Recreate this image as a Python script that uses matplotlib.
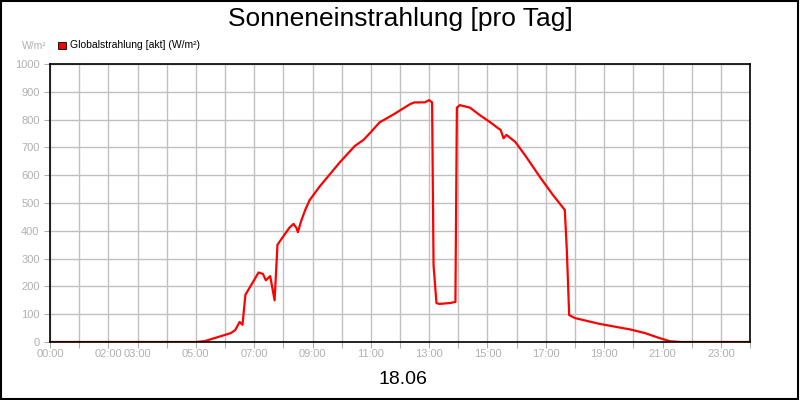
import matplotlib
matplotlib.use("Agg")
import matplotlib.pyplot as plt
from matplotlib.patches import Rectangle

plt.rcParams['font.family'] = ['Liberation Sans', 'DejaVu Sans']

hours = [0, 5.0, 5.3, 6.2, 6.35, 6.5, 6.6, 6.7, 7.0, 7.15, 7.3, 7.4, 7.55, 7.7, 7.8, 8.2, 8.35,
         8.45, 8.5, 8.6, 8.75, 8.9, 9.25, 9.95, 10.45, 10.75, 11.0, 11.3, 11.8, 12.35, 12.5,
         12.85, 13.0, 13.1, 13.15, 13.25, 13.35, 13.7, 13.9, 13.95, 14.05, 14.4, 14.75, 15.1,
         15.35, 15.45, 15.55, 15.65, 15.95, 16.3, 16.8, 17.25, 17.65, 17.72, 17.8, 18.0, 18.85,
         19.9, 20.4, 20.9, 21.25, 21.6, 24.0]
values = [0, 0, 3, 32, 43, 72, 62, 170, 223, 250, 245, 222, 237, 150, 350, 410, 425,
          410, 395, 432, 475, 510, 560, 648, 705, 727, 755, 790, 820, 856, 862,
          862, 870, 862, 277, 140, 137, 140, 144, 843, 852, 843, 815, 790,
          770, 763, 733, 745, 720, 670, 593, 528, 475, 330, 97, 86, 65,
          45, 32, 14, 3, 0, 0]
tick_hours = [0, 2, 3, 5, 7, 9, 11, 13, 15, 17, 19, 21, 23]
tick_labels = ["00:00", "02:00", "03:00", "05:00", "07:00", "09:00", "11:00",
               "13:00", "15:00", "17:00", "19:00", "21:00", "23:00"]

fig = plt.figure(figsize=(8, 4), dpi=100)
fig.patches.append(Rectangle((0.001, 0.002), 0.997, 0.996, transform=fig.transFigure,
                             fill=False, edgecolor="black", linewidth=1.5))
ax = fig.add_axes([0.0625, 0.145, 0.875, 0.695])
ax.plot(hours, values, color="#ff0000", linewidth=1.6)
ax.set_xlim(0, 24)
ax.set_ylim(0, 1000)
ax.set_xticks(range(0, 25))
ax.set_xticklabels([""] * 25)
for h, lab in zip(tick_hours, tick_labels):
    ax.text(h, -0.025, lab, transform=ax.get_xaxis_transform(), ha="center", va="top",
            fontsize=8, color="#b0b0b0")
ax.set_yticks(range(0, 1001, 100))
ax.tick_params(axis="y", labelsize=8, labelcolor="#b0b0b0", color="#b0b0b0", length=4)
ax.tick_params(axis="x", color="#b0b0b0", length=4)
ax.grid(True, color="#c0c0c0", linewidth=1)
ax.set_axisbelow(True)
for s in ax.spines.values():
    s.set_color("black")
    s.set_linewidth(1.2)
fig.text(0.5, 0.952, "Sonneneinstrahlung [pro Tag]", ha="center", va="center", fontsize=19)
fig.text(0.504, 0.05, "18.06", ha="center", va="center", fontsize=14)
fig.text(0.028, 0.885, "W/m²", ha="left", va="center", fontsize=7.5, color="#b0b0b0")
fig.patches.append(Rectangle((0.073, 0.878), 0.009, 0.018, transform=fig.transFigure,
                             facecolor="#ff0000", edgecolor="black", linewidth=0.6))
fig.text(0.087, 0.888, "Globalstrahlung [akt] (W/m²)", ha="left", va="center", fontsize=7.5)
fig.savefig("out.png", dpi=100)
